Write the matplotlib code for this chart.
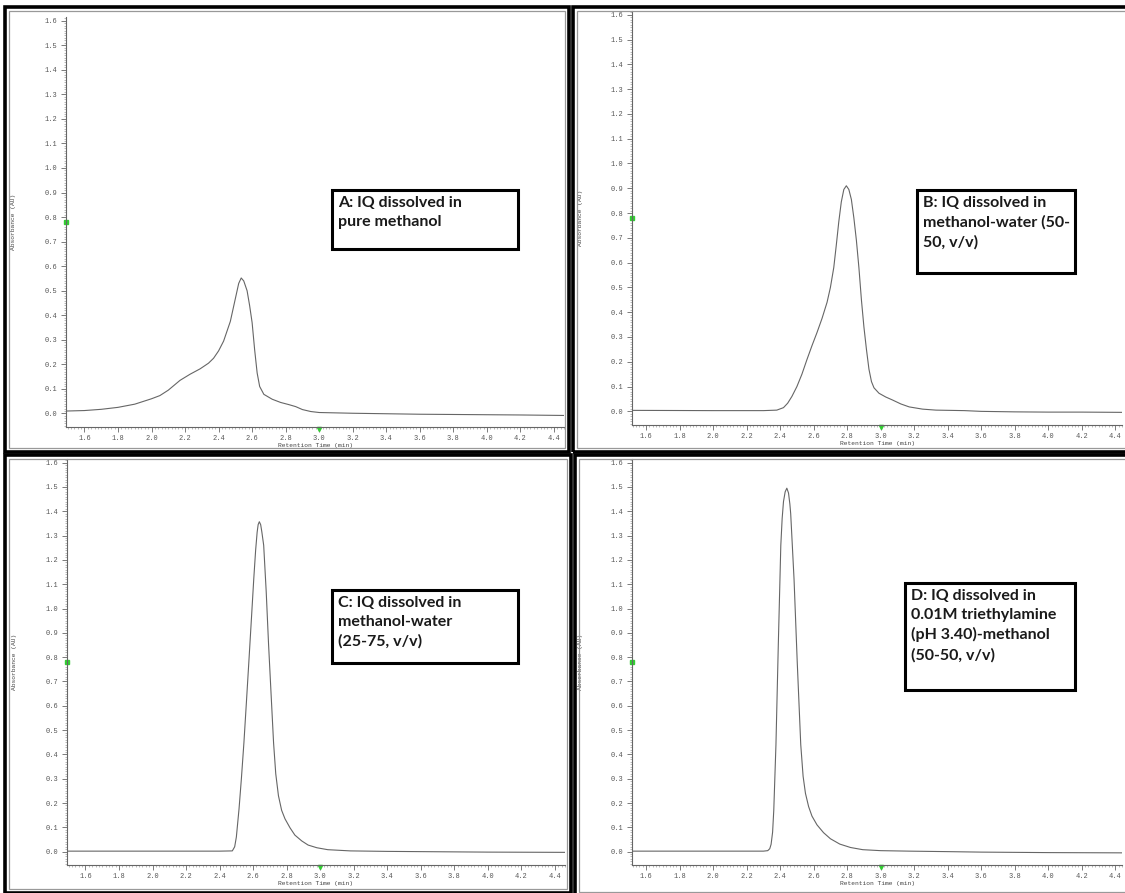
import matplotlib
matplotlib.use("Agg")
import matplotlib.pyplot as plt
from matplotlib.patches import Rectangle
from matplotlib.ticker import MultipleLocator, FormatStrFormatter

# chromatogram traces (retention time in min, absorbance in AU)
time_a = [1.49, 1.60, 1.70, 1.80, 1.90, 2.00, 2.05, 2.10, 2.17, 2.23, 2.29, 2.34, 2.37,
          2.40, 2.43, 2.47, 2.50, 2.52, 2.535, 2.55, 2.57, 2.585, 2.60, 2.615, 2.63,
          2.645, 2.67, 2.72, 2.77, 2.82, 2.86, 2.90, 2.95, 3.00, 3.20, 3.40, 3.60,
          3.80, 4.00, 4.20, 4.46]
abs_a = [0.010, 0.012, 0.017, 0.025, 0.038, 0.060, 0.073, 0.095, 0.135, 0.160, 0.182,
         0.205, 0.225, 0.255, 0.295, 0.375, 0.468, 0.530, 0.552, 0.540, 0.500, 0.440,
         0.370, 0.260, 0.165, 0.110, 0.078, 0.058, 0.045, 0.036, 0.028, 0.016, 0.008,
         0.004, 0.001, -0.001, -0.003, -0.004, -0.005, -0.006, -0.008]

time_b = [1.516, 2.00, 2.30, 2.38, 2.42, 2.445, 2.47, 2.50, 2.53, 2.56, 2.59, 2.62,
          2.65, 2.68, 2.70, 2.72, 2.735, 2.75, 2.765, 2.78, 2.795, 2.81, 2.825, 2.84,
          2.855, 2.87, 2.885, 2.90, 2.915, 2.93, 2.945, 2.96, 2.99, 3.03, 3.07, 3.12,
          3.17, 3.25, 3.33, 3.50, 3.60, 3.80, 4.00, 4.20, 4.44]
abs_b = [0.004, 0.003, 0.003, 0.005, 0.015, 0.033, 0.060, 0.100, 0.150, 0.209, 0.265,
         0.318, 0.375, 0.440, 0.500, 0.580, 0.670, 0.765, 0.845, 0.895, 0.910, 0.895,
         0.855, 0.780, 0.690, 0.580, 0.450, 0.340, 0.250, 0.170, 0.120, 0.095, 0.073,
         0.058, 0.046, 0.030, 0.018, 0.009, 0.005, 0.003, 0.000, -0.002, -0.003,
         -0.003, -0.004]

time_c = [1.49, 2.00, 2.40, 2.476, 2.49, 2.50, 2.516, 2.53, 2.545, 2.56, 2.575, 2.59,
          2.604, 2.615, 2.624, 2.630, 2.637, 2.645, 2.652, 2.663, 2.678, 2.692, 2.707,
          2.722, 2.735, 2.751, 2.77, 2.79, 2.82, 2.849, 2.89, 2.928, 2.98, 3.045, 3.18,
          3.40, 3.60, 4.00, 4.46]
abs_c = [0.002, 0.002, 0.002, 0.003, 0.020, 0.060, 0.176, 0.300, 0.447, 0.615, 0.786,
         0.960, 1.124, 1.240, 1.314, 1.345, 1.357, 1.345, 1.315, 1.260, 1.070, 0.854,
         0.650, 0.447, 0.320, 0.230, 0.170, 0.135, 0.098, 0.068, 0.044, 0.027, 0.016,
         0.008, 0.003, 0.001, 0.000, -0.002, -0.003]

time_d = [1.516, 2.00, 2.30, 2.326, 2.338, 2.346, 2.355, 2.362, 2.375, 2.389, 2.404,
          2.412, 2.42, 2.43, 2.44, 2.45, 2.458, 2.463, 2.483, 2.502, 2.523, 2.537,
          2.551, 2.57, 2.59, 2.62, 2.659, 2.70, 2.756, 2.82, 2.893, 3.00, 3.17, 3.40,
          3.60, 4.00, 4.44]
abs_d = [0.002, 0.002, 0.002, 0.004, 0.012, 0.030, 0.080, 0.170, 0.440, 0.850, 1.260,
         1.370, 1.440, 1.480, 1.495, 1.475, 1.430, 1.390, 1.120, 0.780, 0.440, 0.310,
         0.240, 0.185, 0.146, 0.110, 0.078, 0.053, 0.031, 0.017, 0.008, 0.004, 0.002,
         0.000, -0.002, -0.004, -0.005]

labels = ["A: IQ dissolved in\npure methanol",
          "B: IQ dissolved in\nmethanol-water (50-\n50, v/v)",
          "C: IQ dissolved in\nmethanol-water\n(25-75, v/v)",
          "D: IQ dissolved in\n0.01M triethylamine\n(pH 3.40)-methanol\n(50-50, v/v)"]

W, H = 1125, 893
fig = plt.figure(figsize=(W / 100, H / 100), dpi=100)


def fx(x):
    return x / W


def fy(y):
    return 1 - y / H


def frame(x0, y0, x1, y1, lw, color):
    fig.add_artist(Rectangle((fx(x0), fy(y1)), fx(x1) - fx(x0), fy(y0) - fy(y1),
                             transform=fig.transFigure, fill=False, lw=lw,
                             edgecolor=color, clip_on=False))


# panel layout in pixels: outer frame, axes box, xlim, label box
panels = [
    ((5, 7, 569, 452), (66, 17, 564, 427), (1.49, 4.46), (332, 190, 518, 249)),
    ((573, 7, 1130, 452), (632, 11, 1122, 425), (1.516, 4.44), (917, 190, 1075, 273)),
    ((5, 455, 571, 893), (67, 459, 565, 865), (1.49, 4.46), (332, 590, 518, 663)),
    ((575, 455, 1130, 896), (632, 459, 1122, 865), (1.516, 4.44), (905, 583, 1075, 690)),
]
traces = [(time_a, abs_a), (time_b, abs_b), (time_c, abs_c), (time_d, abs_d)]

mono = "Liberation Mono"
for (fr, box, xl, lb), (t, a), text in zip(panels, traces, labels):
    # double frame like the screenshot windows
    frame(fr[0], fr[1], fr[2], fr[3], 2.6, "black")
    frame(fr[0] + 4, fr[1] + 4, fr[2] - 4, fr[3] - 4, 0.9, "#999999")

    l, top, r, b = box
    ax = fig.add_axes([fx(l), fy(b), fx(r) - fx(l), fy(top) - fy(b)])
    ax.plot(t, a, color="#666666", lw=0.8)
    ax.set_xlim(xl)
    ax.set_ylim(-0.055, 1.615)
    for s in ["top", "right"]:
        ax.spines[s].set_visible(False)
    for s in ["left", "bottom"]:
        ax.spines[s].set_color("#666666")
        ax.spines[s].set_linewidth(0.8)
    ax.xaxis.set_major_locator(MultipleLocator(0.2))
    ax.xaxis.set_minor_locator(MultipleLocator(0.02))
    ax.yaxis.set_major_locator(MultipleLocator(0.1))
    ax.yaxis.set_minor_locator(MultipleLocator(0.01))
    ax.xaxis.set_major_formatter(FormatStrFormatter("%.1f"))
    ax.yaxis.set_major_formatter(FormatStrFormatter("%.1f"))
    ax.tick_params(which="major", length=3.5, width=0.6, color="#666666",
                   labelsize=5, labelcolor="#555555", pad=2.5)
    ax.tick_params(which="minor", length=1.5, width=0.4, color="#888888")
    for lab in ax.get_xticklabels() + ax.get_yticklabels():
        lab.set_fontfamily(mono)
    h = b - top
    ax.set_xlabel("Retention Time (min)", fontsize=4.5, family=mono, color="#444444")
    ax.xaxis.set_label_coords(0.5, -16.0 / h)
    ax.set_ylabel("Absorbance (AU)", fontsize=4.5, family=mono, color="#444444")
    ax.yaxis.set_label_coords(-0.1, 0.5)
    ax.patch.set_alpha(0)

    # green cursor marks on the axes
    ax.plot([xl[0]], [0.78], marker="s", ms=2.5, color="#33cc33", clip_on=False)
    ax.plot([3.0], [-0.062], marker="v", ms=3, color="#33cc33", clip_on=False)

    # caption box
    frame(lb[0], lb[1], lb[2], lb[3], 2.2, "black")
    fig.text(fx(lb[0] + 6), fy(lb[1] + 6), text, ha="left", va="top",
             fontsize=11.5, family="Lato", weight="bold", color="#1a1a1a",
             linespacing=1.45)

fig.savefig("out.png", dpi=100, facecolor="white")
